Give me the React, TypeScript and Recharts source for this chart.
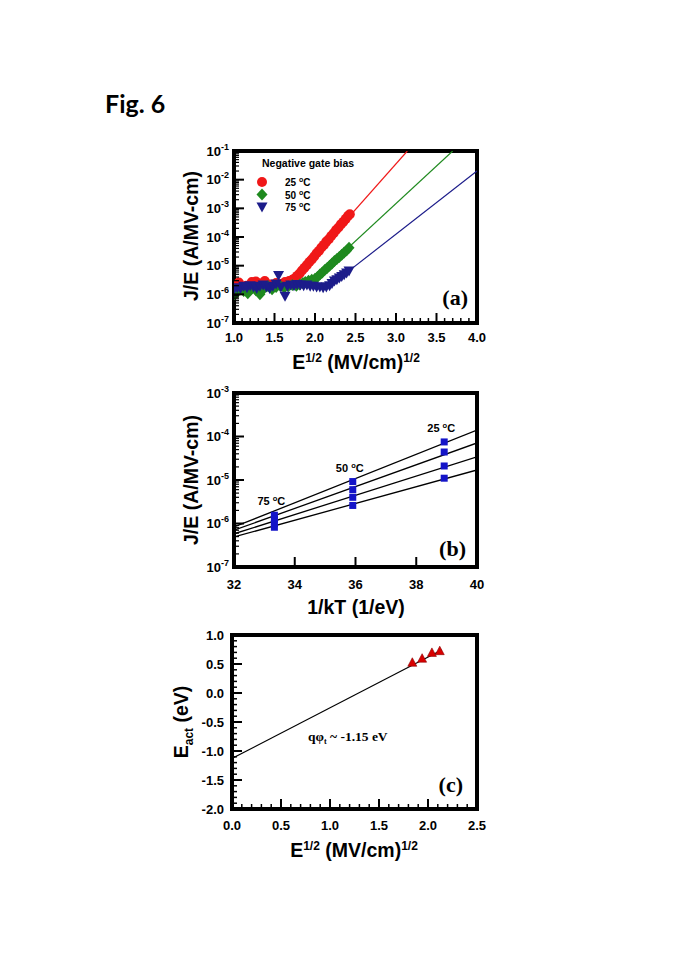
import React from "react";
import {
  ComposedChart,
  Scatter,
  Line,
  XAxis,
  YAxis,
  ReferenceArea,
  ReferenceDot,
  Legend,
} from "recharts";

const SANS = "'Liberation Sans', Arial, sans-serif";
const SERIF = "'Liberation Serif', 'Times New Roman', serif";

const RED = "#f01818";
const GREEN = "#1f8a1f";
const NAVY = "#1c1c8a";
const BLUE_SQ = "#1414c8";
const TRI_RED = "#d80000";

// ---------- panel (a): J/E vs E^1/2 (negative gate bias)
const aXMajor = [1.0, 1.5, 2.0, 2.5, 3.0, 3.5, 4.0];
const aYMajor = [1e-7, 1e-6, 1e-5, 1e-4, 1e-3, 1e-2, 1e-1];

const field25 = [1.0, 1.03, 1.06, 1.1, 1.15, 1.22, 1.27, 1.32, 1.38, 1.45, 1.52, 1.58, 1.63, 1.68, 1.72, 1.75, 1.78, 1.81, 1.84, 1.87, 1.9, 1.93, 1.96, 1.99, 2.02, 2.05, 2.08, 2.11, 2.14, 2.17, 2.2, 2.23, 2.26, 2.29, 2.32, 2.35, 2.38, 2.41, 2.43];
const je25 = [1.0e-6, 1.6e-6, 2.6e-6, 1.8e-6, 2.0e-6, 2.7e-6, 2.8e-6, 2.4e-6, 2.9e-6, 2.2e-6, 2.5e-6, 2.3e-6, 2.7e-6, 2.9e-6, 3.2e-6, 3.6e-6, 4.4e-6, 5.3e-6, 6.8e-6, 8.4e-6, 1.05e-5, 1.35e-5, 1.65e-5, 2.1e-5, 2.7e-5, 3.3e-5, 4.3e-5, 5.3e-5, 6.9e-5, 8.4e-5, 1.08e-4, 1.35e-4, 1.75e-4, 2.15e-4, 2.75e-4, 3.4e-4, 4.3e-4, 5.5e-4, 6.2e-4];

const field50 = [1.0, 1.04, 1.08, 1.12, 1.17, 1.22, 1.27, 1.32, 1.37, 1.42, 1.47, 1.52, 1.57, 1.62, 1.67, 1.72, 1.77, 1.81, 1.85, 1.88, 1.92, 1.96, 2.0, 2.03, 2.06, 2.09, 2.12, 2.15, 2.18, 2.21, 2.24, 2.27, 2.3, 2.33, 2.36, 2.39, 2.42];
const je50 = [9.5e-7, 1.2e-6, 1.5e-6, 1.3e-6, 1.1e-6, 1.6e-6, 1.4e-6, 1.0e-6, 1.6e-6, 1.9e-6, 1.5e-6, 1.8e-6, 2.0e-6, 1.7e-6, 1.9e-6, 2.1e-6, 2.0e-6, 2.2e-6, 2.5e-6, 2.7e-6, 3.0e-6, 3.2e-6, 3.5e-6, 4.0e-6, 4.9e-6, 5.8e-6, 7.0e-6, 8.3e-6, 1.0e-5, 1.2e-5, 1.45e-5, 1.7e-5, 2.0e-5, 2.4e-5, 2.9e-5, 3.4e-5, 4.2e-5];

const field75 = [1.0, 1.04, 1.08, 1.12, 1.16, 1.2, 1.24, 1.28, 1.32, 1.36, 1.4, 1.44, 1.48, 1.52, 1.55, 1.58, 1.63, 1.66, 1.7, 1.74, 1.78, 1.82, 1.86, 1.9, 1.94, 1.98, 2.02, 2.06, 2.1, 2.14, 2.18, 2.21, 2.24, 2.27, 2.3, 2.33, 2.36, 2.39, 2.42];
const je75 = [1.5e-6, 1.7e-6, 1.6e-6, 1.9e-6, 1.7e-6, 2.0e-6, 1.8e-6, 1.6e-6, 1.9e-6, 2.1e-6, 1.8e-6, 1.6e-6, 1.9e-6, 2.3e-6, 4.5e-6, 1.8e-6, 8.5e-7, 1.9e-6, 2.1e-6, 2.0e-6, 2.2e-6, 2.1e-6, 2.0e-6, 2.1e-6, 1.9e-6, 1.9e-6, 1.8e-6, 1.8e-6, 1.7e-6, 1.8e-6, 2.0e-6, 2.4e-6, 2.9e-6, 3.2e-6, 3.7e-6, 4.2e-6, 4.8e-6, 5.6e-6, 6.5e-6];

// fitted lines (end points)
const fit25X = [1.75, 3.14];
const fit25Y = [3.7e-6, 1e-1];
const fit50X = [2.1, 3.7];
const fit50Y = [6.5e-6, 1e-1];
const fit75X = [2.3, 4.0];
const fit75Y = [3.6e-6, 2.0e-2];

const legendTemps = ["25", "50", "75"];

// ---------- panel (b): J/E vs 1/kT
const bXMajor = [32, 34, 36, 38, 40];
const bYMajor = [1e-7, 1e-6, 1e-5, 1e-4, 1e-3];
const invKT = [33.33, 35.91, 38.92];
const bTempLabels = ["75", "50", "25"];
const bSet1 = [1.55e-6, 9.2e-6, 7.5e-5];
const bSet2 = [1.25e-6, 6.0e-6, 4.4e-5];
const bSet3 = [1.0e-6, 4.0e-6, 2.1e-5];
const bSet4 = [8.2e-7, 2.6e-6, 1.1e-5];
const bFitX = [32, 40];
const bFitStart = [8.3e-7, 7.0e-7, 5.8e-7, 4.9e-7];
const bFitEnd = [1.4e-4, 7.1e-5, 3.4e-5, 1.7e-5];

// ---------- panel (c): E_act vs E^1/2
const cXMajor = [0.0, 0.5, 1.0, 1.5, 2.0, 2.5];
const cYMajor = [-2.0, -1.5, -1.0, -0.5, 0.0, 0.5, 1.0];
const cField = [1.84, 1.94, 2.04, 2.12];
const cEact = [0.53, 0.6, 0.7, 0.73];
const cFitX = [0, 2.14];
const cFitY = [-1.13, 0.74];

// ---------- helpers
const zip = (xs: number[], ys: number[]) => xs.map((x, i) => ({ x, y: ys[i] }));

function withMinors(majors: number[], n: number) {
  const out: number[] = [];
  majors.forEach((m, i) => {
    out.push(m);
    if (i < majors.length - 1) {
      for (let k = 1; k < n; k++) out.push(+(m + ((majors[i + 1] - m) * k) / n).toFixed(4));
    }
  });
  return out;
}

function withLogMinors(decades: number[]) {
  const out: number[] = [];
  decades.forEach((d, i) => {
    out.push(d);
    if (i < decades.length - 1) {
      for (let k = 2; k <= 9; k++) out.push(+(k * d).toPrecision(3));
    }
  });
  return out;
}

const isHalf = (v: number) => Math.abs(v * 2 - Math.round(v * 2)) < 1e-6;
const isInt = (v: number) => Math.abs(v - Math.round(v)) < 1e-6;
const isDecade = (v: number) => Math.abs(Math.log10(v) - Math.round(Math.log10(v))) < 1e-6;

const xTick = (major: (v: number) => boolean, fmt: (v: number) => string, dy: number) =>
  (props: any) => {
    const { x, y, payload } = props;
    const v = payload.value;
    const m = major(v);
    return (
      <g>
        <line x1={x} x2={x} y1={y} y2={y - (m ? 10 : 5)} stroke="#000" strokeWidth={m ? 2 : 1.5} />
        {m && (
          <text x={x} y={y + dy} textAnchor="middle" fontFamily={SANS} fontWeight="bold" fontSize={13} fill="#000">
            {fmt(v)}
          </text>
        )}
      </g>
    );
  };

const yTick = (major: (v: number) => boolean, gap: number) => (props: any) => {
  const { x, y, payload } = props;
  const v = payload.value;
  const m = major(v);
  return (
    <g>
      <line x1={x} x2={x + (m ? 10 : 5)} y1={y} y2={y} stroke="#000" strokeWidth={m ? 2 : 1.5} />
      {m && (
        <text x={x - gap} y={y + 4.5} textAnchor="end" fontFamily={SANS} fontWeight="bold" fontSize={13} fill="#000">
          {v.toFixed(1)}
        </text>
      )}
    </g>
  );
};

const logYTick = (gap: number) => (props: any) => {
  const { x, y, payload } = props;
  const v = payload.value;
  const m = isDecade(v);
  return (
    <g>
      <line x1={x} x2={x + (m ? 10 : 5)} y1={y} y2={y} stroke="#000" strokeWidth={m ? 2 : 1.2} />
      {m && (
        <text x={x - gap} y={y + 4.5} textAnchor="end" fontFamily={SANS} fontWeight="bold" fontSize={13} fill="#000">
          10
          <tspan dy={-6} fontSize={9}>
            {String(Math.round(Math.log10(v)))}
          </tspan>
        </text>
      )}
    </g>
  );
};

const circleShape = (p: any) => <circle cx={p.cx} cy={p.cy} r={5} fill={RED} />;
const diamondShape = (p: any) => (
  <polygon
    points={`${p.cx},${p.cy - 6} ${p.cx + 5.5},${p.cy} ${p.cx},${p.cy + 6} ${p.cx - 5.5},${p.cy}`}
    fill={GREEN}
  />
);
const downTriShape = (p: any) => (
  <polygon
    points={`${p.cx - 5.5},${p.cy - 4.5} ${p.cx + 5.5},${p.cy - 4.5} ${p.cx},${p.cy + 5.5}`}
    fill={NAVY}
  />
);
const squareShape = (p: any) => <rect x={p.cx - 3.5} y={p.cy - 3.5} width={7} height={7} fill={BLUE_SQ} />;
const upTriShape = (p: any) => (
  <polygon
    points={`${p.cx - 4.5},${p.cy + 4} ${p.cx + 4.5},${p.cy + 4} ${p.cx},${p.cy - 4.5}`}
    fill={TRI_RED}
    stroke="#8a0000"
    strokeWidth={0.6}
  />
);

const legendShapes = [circleShape, diamondShape, downTriShape];

function renderLegend() {
  return (
    <svg width={120} height={60}>
      <text x={7} y={11} fontFamily={SANS} fontWeight="bold" fontSize={10.5} fill="#000">
        Negative gate bias
      </text>
      {legendTemps.map((t, i) => {
        const cy = 26 + i * 12.5;
        return (
          <g key={t}>
            {legendShapes[i]({ cx: 7, cy })}
            <text x={30} y={cy + 4} fontFamily={SANS} fontWeight="bold" fontSize={10} fill="#000">
              {t + " "}
              <tspan dy={-4} fontSize={7}>o</tspan>
              <tspan dy={4}>C</tspan>
            </text>
          </g>
        );
      })}
    </svg>
  );
}

const tempLabel = (t: string) => (props: any) => {
  const vb = props.viewBox;
  const cx = vb.x + vb.width / 2 - 3;
  const cy = vb.y + vb.height / 2;
  return (
    <text x={cx} y={cy - 10} textAnchor="middle" fontFamily={SANS} fontWeight="bold" fontSize={11} fill="#000">
      {t + " "}
      <tspan dy={-4} fontSize={7.5}>o</tspan>
      <tspan dy={4}>C</tspan>
    </text>
  );
};

// axes get a 1px size (recharts skips drawing a zero-sized axis)
const axisCommon = {
  tickSize: 0,
  tickMargin: 0,
  tickLine: false,
  axisLine: false,
  interval: 0 as const,
  allowDataOverflow: true,
};

// ---------- panels
function PanelA() {
  return (
    <ComposedChart width={685} height={250} margin={{ top: 21, right: 208, bottom: 56, left: 233 }}>
      <XAxis
        {...axisCommon}
        dataKey="x"
        type="number"
        domain={[1, 4]}
        ticks={withMinors(aXMajor, 5)}
        height={1}
        tick={xTick(isHalf, (v) => v.toFixed(1), 19)}
      />
      <YAxis
        {...axisCommon}
        dataKey="y"
        type="number"
        scale="log"
        domain={[1e-7, 1e-1]}
        ticks={withLogMinors(aYMajor)}
        width={1}
        tick={logYTick(5)}
      />
      <Line data={zip(fit25X, fit25Y)} dataKey="y" stroke={RED} strokeWidth={1.2} dot={false} isAnimationActive={false} />
      <Line data={zip(fit50X, fit50Y)} dataKey="y" stroke={GREEN} strokeWidth={1.2} dot={false} isAnimationActive={false} />
      <Line data={zip(fit75X, fit75Y)} dataKey="y" stroke={NAVY} strokeWidth={1.2} dot={false} isAnimationActive={false} />
      <Scatter data={zip(field25, je25)} fill={RED} shape={circleShape} isAnimationActive={false} />
      <Scatter data={zip(field50, je50)} fill={GREEN} shape={diamondShape} isAnimationActive={false} />
      <Scatter data={zip(field75, je75)} fill={NAVY} shape={downTriShape} isAnimationActive={false} />
      <ReferenceArea x1={1} x2={4} y1={1e-7} y2={1e-1} fill="none" stroke="#000" strokeWidth={4} />
      <Legend
        layout="vertical"
        align="center"
        verticalAlign="middle"
        content={renderLegend}
        wrapperStyle={{ top: 26, left: 255, width: 120 }}
      />
    </ComposedChart>
  );
}

function PanelB() {
  const sets = [bSet1, bSet2, bSet3, bSet4];
  const squares = sets.flatMap((s) => zip(invKT, s));
  return (
    <ComposedChart width={685} height={240} margin={{ top: 13, right: 208, bottom: 52, left: 233 }}>
      <XAxis
        {...axisCommon}
        dataKey="x"
        type="number"
        domain={[32, 40]}
        ticks={bXMajor}
        height={1}
        tick={xTick(isInt, (v) => String(v), 22)}
      />
      <YAxis
        {...axisCommon}
        dataKey="y"
        type="number"
        scale="log"
        domain={[1e-7, 1e-3]}
        ticks={withLogMinors(bYMajor)}
        width={1}
        tick={logYTick(5)}
      />
      {bFitStart.map((s, i) => (
        <Line
          key={i}
          data={zip(bFitX, [s, bFitEnd[i]])}
          dataKey="y"
          stroke="#000"
          strokeWidth={1.3}
          dot={false}
          isAnimationActive={false}
        />
      ))}
      <Scatter data={squares} fill={BLUE_SQ} shape={squareShape} isAnimationActive={false} />
      {invKT.map((x, i) => (
        <ReferenceDot key={i} x={x} y={bSet1[i]} r={0} stroke="none" label={tempLabel(bTempLabels[i])} />
      ))}
      <ReferenceArea x1={32} x2={40} y1={1e-7} y2={1e-3} fill="none" stroke="#000" strokeWidth={4} />
    </ComposedChart>
  );
}

function PanelC() {
  return (
    <ComposedChart width={685} height={250} margin={{ top: 15, right: 208, bottom: 60, left: 231 }}>
      <XAxis
        {...axisCommon}
        dataKey="x"
        type="number"
        domain={[0, 2.5]}
        ticks={withMinors(cXMajor, 5)}
        height={1}
        tick={xTick(isHalf, (v) => v.toFixed(1), 21)}
      />
      <YAxis
        {...axisCommon}
        dataKey="y"
        type="number"
        domain={[-2, 1]}
        ticks={withMinors(cYMajor, 5)}
        width={1}
        tick={yTick(isHalf, 8)}
      />
      <Line data={zip(cFitX, cFitY)} dataKey="y" stroke="#000" strokeWidth={1.2} dot={false} isAnimationActive={false} />
      <Scatter data={zip(cField, cEact)} fill={TRI_RED} shape={upTriShape} isAnimationActive={false} />
      <ReferenceArea x1={0} x2={2.5} y1={-2} y2={1} fill="none" stroke="#000" strokeWidth={4} />
    </ComposedChart>
  );
}

const titleStyle = { fontFamily: SANS, fontWeight: "bold" as const, fontSize: 19.5, fill: "#000" };

export default function App() {
  return (
    <div style={{ position: "absolute", left: 0, top: 0, width: 685, height: 968, background: "#fff", overflow: "hidden" }}>
      <div style={{ position: "absolute", left: 0, top: 130 }}>
        <PanelA />
      </div>
      <div style={{ position: "absolute", left: 0, top: 380 }}>
        <PanelB />
      </div>
      <div style={{ position: "absolute", left: 0, top: 620 }}>
        <PanelC />
      </div>
      <svg width={685} height={968} style={{ position: "absolute", left: 0, top: 0, pointerEvents: "none" }}>
        <text x={105} y={113} fontFamily="Lato, 'Open Sans', sans-serif" fontWeight="bold" fontSize={25} fill="#000">
          Fig. 6
        </text>

        {/* panel (a) titles */}
        <text transform="translate(191,236) rotate(-90)" textAnchor="middle" dy="0.35em" {...titleStyle}>
          J/E (A/MV-cm)
        </text>
        <text x={356} y={369} textAnchor="middle" {...titleStyle}>
          E<tspan dy={-7} fontSize={12}>1/2</tspan>
          <tspan dy={7}> (MV/cm)</tspan>
          <tspan dy={-7} fontSize={12}>1/2</tspan>
        </text>
        <text x={468} y={305} textAnchor="end" fontFamily={SERIF} fontWeight="bold" fontSize={22} fill="#000">
          (a)
        </text>

        {/* panel (b) titles */}
        <text transform="translate(191,480) rotate(-90)" textAnchor="middle" dy="0.35em" {...titleStyle}>
          J/E (A/MV-cm)
        </text>
        <text x={356} y={614} textAnchor="middle" {...titleStyle}>
          1/kT (1/eV)
        </text>
        <text x={466} y={556} textAnchor="end" fontFamily={SERIF} fontWeight="bold" fontSize={22} fill="#000">
          (b)
        </text>

        {/* panel (c) titles */}
        <text transform="translate(181,722) rotate(-90)" textAnchor="middle" dy="0.35em" {...titleStyle}>
          E<tspan dy={5} fontSize={12}>act</tspan>
          <tspan dy={-5}> (eV)</tspan>
        </text>
        <text x={354} y={857} textAnchor="middle" {...titleStyle}>
          E<tspan dy={-7} fontSize={12}>1/2</tspan>
          <tspan dy={7}> (MV/cm)</tspan>
          <tspan dy={-7} fontSize={12}>1/2</tspan>
        </text>
        <text x={463} y={792} textAnchor="end" fontFamily={SERIF} fontWeight="bold" fontSize={22} fill="#000">
          (c)
        </text>
        <text x={308} y={741} fontFamily={SERIF} fontWeight="bold" fontSize={13.5} fill="#000">
          qφ<tspan dy={3} fontSize={8}>t</tspan>
          <tspan dy={-3}> ~ -1.15 eV</tspan>
        </text>
      </svg>
    </div>
  );
}
